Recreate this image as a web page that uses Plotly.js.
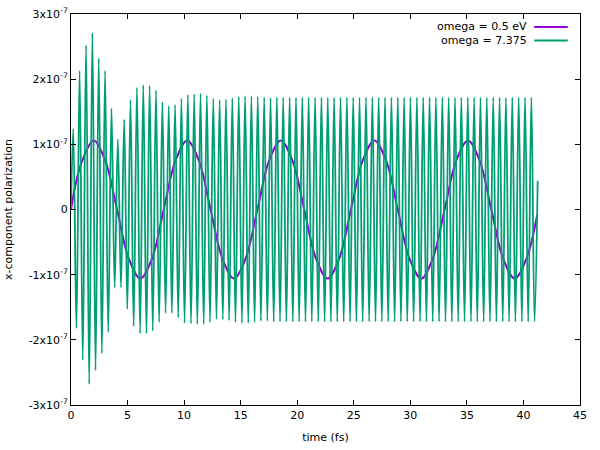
<!DOCTYPE html>
<html>
<head>
<meta charset="utf-8">
<script src="https://cdn.plot.ly/plotly-3.0.1.min.js"></script>
<style>
  html, body { margin: 0; padding: 0; background: #fff; }
  #chart { width: 600px; height: 450px; }
</style>
</head>
<body>
<div id="chart"></div>
<script>
// values in units of 1e-7
const lowT = [0.00, 0.45, 0.97, 2.00, 3.03, 4.07, 5.10, 6.14, 7.17, 8.20,
    9.24, 10.27, 11.31, 12.34, 13.38, 14.41, 15.44, 16.48, 17.51, 18.55,
    19.58, 20.62, 21.65, 22.68, 23.72, 24.75, 25.79, 26.82, 27.86, 28.89,
    29.92, 30.96, 31.99, 33.03, 34.06, 35.10, 36.13, 37.16, 38.20, 39.23,
    40.27, 41.22];
const lowP = [0, 0.42, 0.74, 1.06, 0.75, 0, -0.75, -1.06, -0.75, 0,
    0.75, 1.06, 0.75, 0, -0.75, -1.06, -0.75, 0, 0.75, 1.06,
    0.75, 0, -0.75, -1.06, -0.75, 0, 0.75, 1.06, 0.75, 0,
    -0.75, -1.06, -0.75, 0, 0.75, 1.06, 0.75, 0, -0.75, -1.06,
    -0.75, -0.08];

const peakT = [0.20, 0.76, 1.33, 1.89, 2.45, 3.01, 3.58, 4.14, 4.70, 5.26,
    5.83, 6.39, 6.95, 7.51, 8.08, 8.64, 9.20, 9.76, 10.33, 10.89,
    11.45, 12.01, 12.58, 13.14, 13.70, 14.26, 14.83, 15.39, 15.95, 16.51,
    17.08, 17.64, 18.20, 18.76, 19.33, 19.89, 20.45, 21.01, 21.58, 22.14,
    22.70, 23.26, 23.83, 24.39, 24.95, 25.51, 26.08, 26.64, 27.20, 27.76,
    28.33, 28.89, 29.45, 30.01, 30.58, 31.14, 31.70, 32.26, 32.83, 33.39,
    33.95, 34.51, 35.08, 35.64, 36.20, 36.76, 37.33, 37.89, 38.45, 39.01,
    39.58, 40.14, 40.70];
const peakP = [1.24, 2.13, 2.52, 2.71, 2.32, 2.13, 1.55, 1.08, 1.38, 1.68,
    1.87, 1.91, 1.90, 1.83, 1.65, 1.59, 1.61, 1.70, 1.76, 1.77,
    1.78, 1.75, 1.70, 1.68, 1.69, 1.71, 1.73, 1.74, 1.74, 1.73,
    1.72, 1.71, 1.72, 1.72, 1.72, 1.72, 1.72, 1.72, 1.72, 1.72,
    1.72, 1.72, 1.72, 1.72, 1.72, 1.72, 1.72, 1.72, 1.72, 1.72,
    1.72, 1.72, 1.72, 1.72, 1.72, 1.72, 1.72, 1.72, 1.72, 1.72,
    1.72, 1.72, 1.72, 1.72, 1.72, 1.72, 1.72, 1.72, 1.72, 1.72,
    1.72, 1.72, 1.72];

const troughT = [0.48, 1.04, 1.61, 2.17, 2.73, 3.29, 3.86, 4.42, 4.98, 5.54,
    6.11, 6.67, 7.23, 7.79, 8.36, 8.92, 9.48, 10.04, 10.61, 11.17,
    11.73, 12.29, 12.86, 13.42, 13.98, 14.54, 15.11, 15.67, 16.23, 16.79,
    17.36, 17.92, 18.48, 19.04, 19.61, 20.17, 20.73, 21.29, 21.86, 22.42,
    22.98, 23.54, 24.11, 24.67, 25.23, 25.79, 26.36, 26.92, 27.48, 28.04,
    28.61, 29.17, 29.73, 30.29, 30.86, 31.42, 31.98, 32.54, 33.11, 33.67,
    34.23, 34.79, 35.36, 35.92, 36.48, 37.04, 37.61, 38.17, 38.73, 39.29,
    39.86, 40.42, 40.98];
const troughP = [-1.82, -2.31, -2.68, -2.47, -2.21, -1.88, -1.20, -1.20, -1.53, -1.79,
    -1.90, -1.90, -1.86, -1.73, -1.59, -1.59, -1.66, -1.74, -1.75, -1.76,
    -1.76, -1.73, -1.68, -1.69, -1.70, -1.73, -1.74, -1.74, -1.73, -1.71,
    -1.71, -1.72, -1.72, -1.72, -1.72, -1.72, -1.72, -1.72, -1.72, -1.72,
    -1.72, -1.72, -1.72, -1.72, -1.72, -1.72, -1.72, -1.72, -1.72, -1.72,
    -1.72, -1.72, -1.72, -1.72, -1.72, -1.72, -1.72, -1.72, -1.72, -1.72,
    -1.72, -1.72, -1.72, -1.72, -1.72, -1.72, -1.72, -1.72, -1.72, -1.72,
    -1.72, -1.72, -1.72];

// first and last sample of the fast one
const highStart = [0.00, 0];
const highEnd = [41.26, 0.44];

const yTicks = [-3, -2, -1, 0, 1, 2, 3];
const yTickText = ['-3x10<sup>-7</sup>', '-2x10<sup>-7</sup>', '-1x10<sup>-7</sup>', '0',
    '1x10<sup>-7</sup>', '2x10<sup>-7</sup>', '3x10<sup>-7</sup>'];
const names = ['omega = 0.5 eV', 'omega = 7.375'];

// peaks and troughs interleaved
const hx = [highStart[0]];
const hy = [highStart[1]];
for (let i = 0; i < peakT.length; ++i) {
    hx.push(peakT[i], troughT[i]);
    hy.push(peakP[i], troughP[i]);
}
hx.push(highEnd[0]);
hy.push(highEnd[1]);

const E = 1e-7;

const trace1 = {
    x: lowT,
    y: lowP.map(v => v * E),
    name: names[0],
    type: 'scatter',
    mode: 'lines',
    line: { color: '#9400d3', width: 2, shape: 'spline' }
};

const trace2 = {
    x: hx,
    y: hy.map(v => v * E),
    name: names[1],
    type: 'scatter',
    mode: 'lines',
    line: { color: '#009e73', width: 1.8, shape: 'spline' }
};

const font = { family: 'DejaVu Sans, sans-serif', size: 11, color: '#000' };

const axis = {
    showline: true,
    mirror: 'ticks',
    linecolor: '#000',
    linewidth: 1,
    ticks: 'inside',
    ticklen: 5,
    tickcolor: '#000',
    showgrid: false,
    zeroline: false,
    tickfont: font
};

const layout = {
    width: 600,
    height: 450,
    margin: { l: 71, r: 20, t: 14, b: 45 },
    paper_bgcolor: '#fff',
    plot_bgcolor: '#fff',
    font: font,
    showlegend: false,
    xaxis: Object.assign({}, axis, {
        range: [0, 45],
        tickvals: [0, 5, 10, 15, 20, 25, 30, 35, 40, 45],
        title: { text: 'time (fs)', font: font, standoff: 12 }
    }),
    yaxis: Object.assign({}, axis, {
        range: [-3 * E, 3 * E],
        tickvals: yTicks.map(v => v * E),
        ticktext: yTickText,
        title: { text: 'x-component polarization', font: font, standoff: 13 }
    }),
    annotations: names.map((n, i) => ({
        xref: 'paper', yref: 'paper',
        x: 0.9, y: [0.967, 0.932][i],
        xanchor: 'right', yanchor: 'middle',
        text: n, showarrow: false, font: font
    })),
    shapes: ['#9400d3', '#009e73'].map((c, i) => ({
        type: 'line', xref: 'paper', yref: 'paper',
        x0: 0.91, x1: 0.976,
        y0: [0.967, 0.932][i], y1: [0.967, 0.932][i],
        line: { color: c, width: 2 }
    }))
};

Plotly.newPlot('chart', [trace1, trace2], layout, { displayModeBar: false, staticPlot: true });
</script>
</body>
</html>
